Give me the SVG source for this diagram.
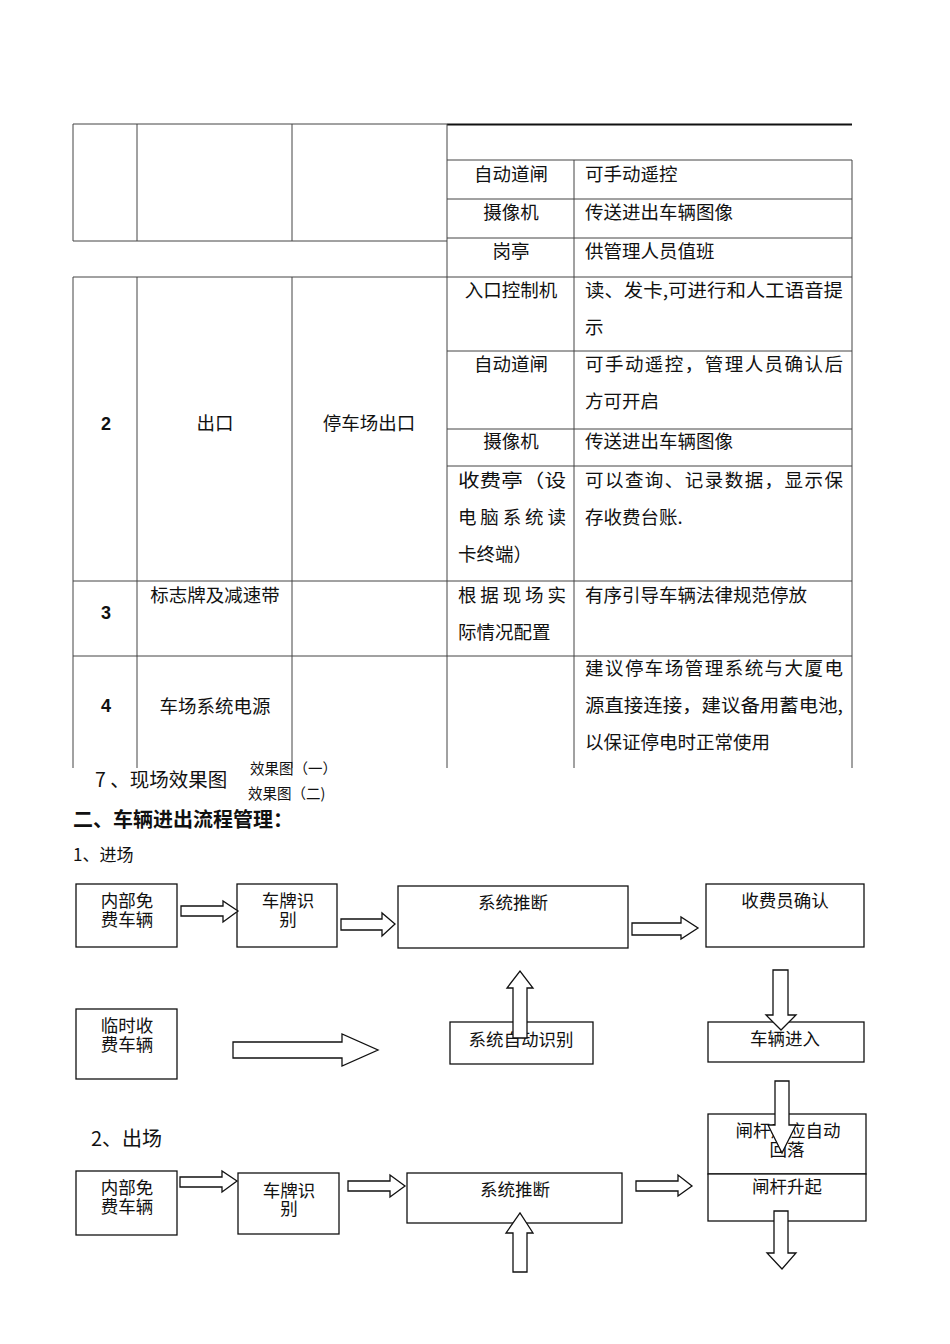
<svg xmlns="http://www.w3.org/2000/svg" width="950" height="1344" viewBox="0 0 950 1344">
<style>
.t{font-family:"Noto Sans CJK SC","Liberation Sans",sans-serif;font-size:18.5px;fill:#111}
.c{text-anchor:middle}
.b{font-family:"Liberation Sans","Noto Sans CJK SC",sans-serif;font-weight:bold;font-size:18px;text-anchor:middle;fill:#111}
.g line{stroke:#444;stroke-width:1}
.box{fill:#fff;stroke:#111;stroke-width:1.3}
.bt{font-family:"Noto Sans CJK SC","Liberation Sans",sans-serif;font-size:17.5px;fill:#111;text-anchor:middle}
.ar{fill:#fff;stroke:#111;stroke-width:1.3;stroke-linejoin:miter}
</style>
<rect width="950" height="1344" fill="#fff"/>

<g id="table" class="g">
  <line x1="73" y1="124" x2="447" y2="124"/>
  <line x1="447" y1="124.5" x2="852" y2="124.5" style="stroke:#111;stroke-width:2"/>
  <line x1="447" y1="160" x2="852" y2="160"/>
  <line x1="447" y1="199" x2="852" y2="199"/>
  <line x1="447" y1="238" x2="852" y2="238"/>
  <line x1="73" y1="241" x2="447" y2="241"/>
  <line x1="73" y1="277" x2="852" y2="277"/>
  <line x1="447" y1="351" x2="852" y2="351"/>
  <line x1="447" y1="429" x2="852" y2="429"/>
  <line x1="447" y1="466" x2="852" y2="466"/>
  <line x1="73" y1="581" x2="852" y2="581"/>
  <line x1="73" y1="656" x2="852" y2="656"/>
  <line x1="73" y1="124" x2="73" y2="241"/>
  <line x1="137" y1="124" x2="137" y2="241"/>
  <line x1="292" y1="124" x2="292" y2="241"/>
  <line x1="73" y1="277" x2="73" y2="768"/>
  <line x1="137" y1="277" x2="137" y2="768"/>
  <line x1="292" y1="277" x2="292" y2="768"/>
  <line x1="447" y1="124" x2="447" y2="768"/>
  <line x1="574" y1="160" x2="574" y2="768"/>
  <line x1="852" y1="160" x2="852" y2="768"/>
</g>

<g id="table-text">
  <text class="t c" x="511" y="181">自动道闸</text>
  <text class="t" x="585" y="181">可手动遥控</text>
  <text class="t c" x="511" y="219">摄像机</text>
  <text class="t" x="585" y="219">传送进出车辆图像</text>
  <text class="t c" x="511" y="258">岗亭</text>
  <text class="t" x="585" y="258">供管理人员值班</text>

  <text class="b" x="106" y="430">2</text>
  <text class="t c" x="215" y="430">出口</text>
  <text class="t c" x="369" y="430">停车场出口</text>
  <text class="t c" x="511" y="297">入口控制机</text>
  <text class="t" x="585" y="297" textLength="258" lengthAdjust="spacingAndGlyphs">读、发卡,可进行和人工语音提</text>
  <text class="t" x="585" y="334">示</text>
  <text class="t c" x="511" y="371">自动道闸</text>
  <text class="t" x="585" y="371" textLength="258" lengthAdjust="spacing">可手动遥控，管理人员确认后</text>
  <text class="t" x="585" y="408">方可开启</text>
  <text class="t c" x="511" y="448">摄像机</text>
  <text class="t" x="585" y="448">传送进出车辆图像</text>
  <text class="t" x="458" y="487" textLength="108" lengthAdjust="spacingAndGlyphs">收费亭（设</text>
  <text class="t" x="458" y="524" textLength="108" lengthAdjust="spacing">电脑系统读</text>
  <text class="t" x="458" y="561">卡终端）</text>
  <text class="t" x="585" y="487" textLength="258" lengthAdjust="spacing">可以查询、记录数据，显示保</text>
  <text class="t" x="585" y="524">存收费台账.</text>

  <text class="b" x="106" y="619">3</text>
  <text class="t c" x="215" y="602">标志牌及减速带</text>
  <text class="t" x="458" y="602" textLength="108" lengthAdjust="spacing">根据现场实</text>
  <text class="t" x="458" y="639">际情况配置</text>
  <text class="t" x="585" y="602">有序引导车辆法律规范停放</text>

  <text class="b" x="106" y="712">4</text>
  <text class="t c" x="215" y="713">车场系统电源</text>
  <text class="t" x="585" y="675" textLength="258" lengthAdjust="spacing">建议停车场管理系统与大厦电</text>
  <text class="t" x="585" y="712" textLength="258" lengthAdjust="spacingAndGlyphs">源直接连接，建议备用蓄电池,</text>
  <text class="t" x="585" y="749">以保证停电时正常使用</text>
</g>

<g id="headings">
  <text class="t" x="95" y="787" style="font-size:19.5px">7&#160;、现场效果图</text>
  <text class="t" x="250" y="774" style="font-size:14.5px">效果图（一）</text>
  <text class="t" x="248" y="799" style="font-size:14.5px">效果图（二)</text>
  <text class="t" x="73" y="827" style="font-size:20px;font-weight:bold">二、车辆进出流程管理：</text>
  <text class="t" x="73" y="861" style="font-size:17px">1、进场</text>
  <text class="t" x="91" y="1146" style="font-size:20px">2、出场</text>
</g>

<g id="in-free">
  <rect class="box" x="76" y="884" width="101" height="63"/>
  <text class="bt" x="127" y="907">内部免</text>
  <text class="bt" x="127" y="926">费车辆</text>
</g>
<g id="in-plate">
  <rect class="box" x="237" y="884" width="100" height="63"/>
  <text class="bt" x="288" y="907">车牌识</text>
  <text class="bt" x="288" y="926">别</text>
</g>
<g id="in-judge">
  <rect class="box" x="398" y="886" width="230" height="62"/>
  <text class="bt" x="513" y="909">系统推断</text>
</g>
<g id="in-cashier">
  <rect class="box" x="706" y="884" width="158" height="63"/>
  <text class="bt" x="785" y="907">收费员确认</text>
</g>
<g id="in-temp">
  <rect class="box" x="76" y="1009" width="101" height="70"/>
  <text class="bt" x="127" y="1032">临时收</text>
  <text class="bt" x="127" y="1051">费车辆</text>
</g>
<g id="in-auto">
  <rect class="box" x="450" y="1022" width="143" height="42"/>
  <text class="bt" x="521" y="1046">系统自动识别</text>
</g>
<g id="in-enter">
  <rect class="box" x="708" y="1022" width="156" height="40"/>
  <text class="bt" x="785" y="1045">车辆进入</text>
</g>
<g id="gate-down">
  <rect class="box" x="708" y="1114" width="158" height="60"/>
  <text class="bt" x="788" y="1137">闸杆感应自动</text>
  <text class="bt" x="787" y="1156">回落</text>
</g>
<g id="gate-up">
  <rect class="box" x="708" y="1174" width="158" height="47"/>
  <text class="bt" x="787" y="1193">闸杆升起</text>
</g>
<g id="out-free">
  <rect class="box" x="76" y="1171" width="101" height="64"/>
  <text class="bt" x="127" y="1194">内部免</text>
  <text class="bt" x="127" y="1213">费车辆</text>
</g>
<g id="out-plate">
  <rect class="box" x="238" y="1173" width="101" height="61"/>
  <text class="bt" x="289" y="1197">车牌识</text>
  <text class="bt" x="289" y="1215">别</text>
</g>
<g id="out-judge">
  <rect class="box" x="407" y="1173" width="215" height="50"/>
  <text class="bt" x="515" y="1196">系统推断</text>
</g>

<g id="connectors">
  <polygon class="ar" points="181,906 223,906 223,901 238,911 223,922 223,916 181,916"/>
  <polygon class="ar" points="341,919 382,919 382,913 395,924 382,936 382,930 341,930"/>
  <polygon class="ar" points="632,923 681,923 681,917 698,928 681,939 681,935 632,935"/>
  <polygon class="ar" points="233,1042 342,1042 342,1034 378,1050 342,1066 342,1058 233,1058"/>
  <polygon class="ar" points="773,970 788,970 788,1015 796,1015 781,1030 766,1015 773,1015"/>
  <polygon class="ar" points="513,1038 513,988 507,988 520,971 533,988 527,988 527,1038"/>
  <polygon class="ar" points="775,1081 789,1081 789,1125 796,1125 782,1153 768,1125 775,1125"/>
  <polygon class="ar" points="180,1177 222,1177 222,1171 237,1181 222,1192 222,1187 180,1187"/>
  <polygon class="ar" points="348,1181 390,1181 390,1175 405,1186 390,1197 390,1191 348,1191"/>
  <polygon class="ar" points="636,1181 678,1181 678,1175 692,1186 678,1196 678,1191 636,1191"/>
  <polygon class="ar" points="513,1272 513,1233 506,1233 520,1213 533,1233 527,1233 527,1272"/>
  <polygon class="ar" points="774,1211 788,1211 788,1253 796,1253 782,1269 767,1253 774,1253"/>
</g>
</svg>
